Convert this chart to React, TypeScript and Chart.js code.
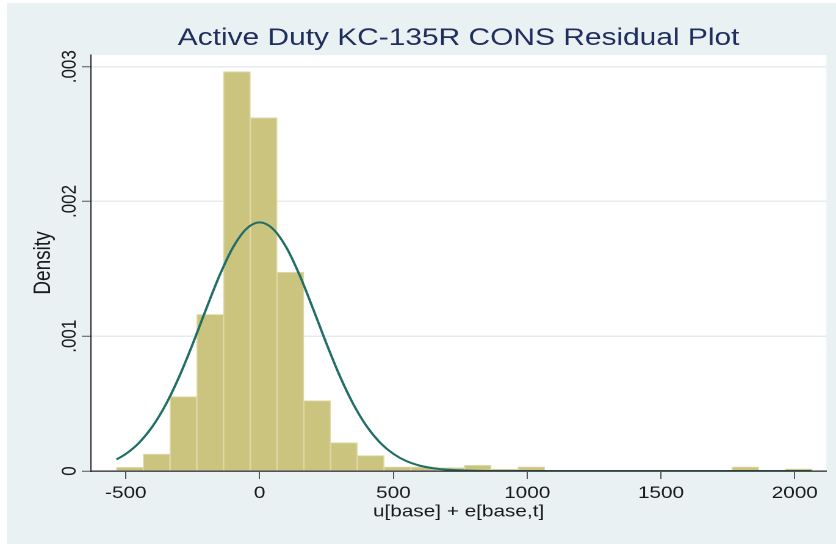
import React, { useEffect, useRef } from 'react';
import { Chart, registerables } from 'chart.js';

Chart.register(...registerables);

// ---- data ----
const binCenters = [-485, -385, -285, -185, -85, 15, 115, 215, 315, 415, 515, 615, 715, 815, 915, 1015, 1115, 1215, 1315, 1415, 1515, 1615, 1715, 1815, 1915, 2015];
const densities = [0.000027, 0.000126, 0.000551, 0.001162, 0.002962, 0.002621, 0.001474, 0.000522, 0.00021, 0.000114, 0.00003, 0.00003, 0.000025, 0.000042, 0.000012, 0.00003, 0, 0, 0, 0, 0, 0, 0, 0.00003, 0, 0.000015];

const curveX = [-535, -500, -450, -400, -350, -300, -250, -200, -150, -100, -50, 0, 50, 100, 150, 200, 250, 300, 350, 400, 450, 500, 550, 600, 650, 700, 800, 900, 1000, 1500, 2062];
const curveY = [0.000086, 0.000127, 0.000211, 0.000332, 0.000496, 0.000703, 0.000944, 0.001202, 0.00145, 0.001658, 0.001796, 0.001845, 0.001796, 0.001658, 0.00145, 0.001202, 0.000944, 0.000703, 0.000496, 0.000332, 0.000211, 0.000127, 0.000072, 0.000039, 0.00002, 0.00001, 0.000002, 0, 0, 0, 0];

const xTickValues = [-500, 0, 500, 1000, 1500, 2000];
const xTickLabels = ['-500', '0', '500', '1000', '1500', '2000'];
const yTickValues = [0, 0.001, 0.002, 0.003];
const yTickLabels = ['0', '.001', '.002', '.003'];

const TITLE = 'Active Duty KC-135R CONS Residual Plot';
const X_TITLE = 'u[base] + e[base,t]';
const Y_TITLE = 'Density';

// ---- styles ----
const FAMILY = "'Liberation Sans', Arial, sans-serif";
const BG = '#E9F1F3';
const BAR_FILL = '#CBC47F';
const BAR_EDGE = '#DDD8A6';
const CURVE = '#216E67';
const TITLE_COLOR = '#1F2E5E';
const TEXT = '#1a1a1a';
const GRID = '#E4ECEF';
const AXIS = '#222222';
const TICK = '#555555';

const LOGICAL_W = 685;
const H = 544;

const bgPlugin = {
  id: 'bgPlugin',
  beforeDraw(chart: any) {
    const { ctx, width, height, chartArea } = chart;
    ctx.save();
    ctx.fillStyle = '#FFFFFF';
    ctx.fillRect(0, 0, width, height);
    ctx.fillStyle = BG;
    ctx.fillRect(5.7, 3, width - 5.7, height - 3);
    ctx.fillStyle = '#FFFFFF';
    ctx.fillRect(chartArea.left, chartArea.top, chartArea.right - chartArea.left, chartArea.bottom - chartArea.top);
    ctx.restore();
  },
};

export default function App() {
  const ref = useRef<HTMLCanvasElement | null>(null);

  useEffect(() => {
    const canvas = ref.current;
    if (!canvas) return;
    const tickFont = { family: FAMILY, size: 17, weight: 'normal' as const };
    const chart = new Chart(canvas, {
      type: 'bar',
      data: {
        datasets: [
          {
            type: 'line' as const,
            label: 'normal',
            data: curveX.map((x, i) => ({ x, y: curveY[i] })),
            borderColor: CURVE,
            borderWidth: 2,
            pointRadius: 0,
            fill: false,
            cubicInterpolationMode: 'monotone' as const,
            order: 0,
          },
          {
            type: 'bar' as const,
            label: 'density',
            data: binCenters.map((x, i) => ({ x, y: densities[i] })),
            backgroundColor: BAR_FILL,
            borderColor: BAR_EDGE,
            borderWidth: 1,
            barPercentage: 1,
            categoryPercentage: 1,
            order: 1,
          },
        ] as any,
      },
      options: {
        responsive: false,
        animation: false,
        devicePixelRatio: 2,
        layout: { padding: { left: 0, right: 7.9, top: 0, bottom: 0 } },
        plugins: {
          legend: { display: false },
          tooltip: { enabled: false },
          title: {
            display: true,
            text: TITLE,
            fullSize: false,
            color: TITLE_COLOR,
            font: { family: FAMILY, size: 24.5, weight: 'normal', lineHeight: 1.2 },
            padding: { top: 23.3, bottom: 2.3 },
          },
        },
        scales: {
          x: {
            type: 'linear',
            min: -631,
            max: 2118,
            offset: false,
            afterBuildTicks: (s: any) => {
              s.ticks = xTickValues.map((v) => ({ value: v }));
            },
            afterFit: (s: any) => {
              s.height = 73;
            },
            ticks: {
              font: tickFont,
              color: TEXT,
              padding: 4,
              maxRotation: 0,
              minRotation: 0,
              autoSkip: false,
              callback: (_v: any, i: number) => xTickLabels[i],
            },
            grid: {
              drawOnChartArea: false,
              drawTicks: true,
              tickLength: 8,
              tickColor: TICK,
              tickWidth: 1,
              offset: false,
            },
            border: { display: true, color: AXIS, width: 1.2, z: 1 },
            title: {
              display: true,
              text: X_TITLE,
              color: TEXT,
              font: tickFont,
              padding: { top: 0, bottom: 21.8 },
            },
          },
          y: {
            type: 'linear',
            min: 0,
            max: 0.003087,
            afterBuildTicks: (s: any) => {
              s.ticks = yTickValues.map((v) => ({ value: v }));
            },
            afterFit: (s: any) => {
              s.width = 74.4;
            },
            ticks: {
              font: tickFont,
              color: TEXT,
              padding: -6.9,
              minRotation: 90,
              maxRotation: 90,
              crossAlign: 'center',
              autoSkip: false,
              callback: (_v: any, i: number) => yTickLabels[i],
            },
            grid: {
              color: GRID,
              lineWidth: 1.5,
              tickLength: 7.4,
              tickColor: TICK,
              tickWidth: 1,
            },
            border: { display: true, color: AXIS, width: 1, z: 1 },
            title: {
              display: true,
              text: Y_TITLE,
              color: TEXT,
              font: { family: FAMILY, size: 19, weight: 'normal', lineHeight: 1.2 },
              padding: { top: 24.2, bottom: 0 },
            },
          },
        },
      } as any,
      plugins: [bgPlugin],
    });
    return () => chart.destroy();
  }, []);

  return (
    <canvas
      ref={ref}
      width={LOGICAL_W}
      height={H}
      style={{ position: 'absolute', left: 0, top: 0, width: '836px', height: '544px' }}
    />
  );
}
